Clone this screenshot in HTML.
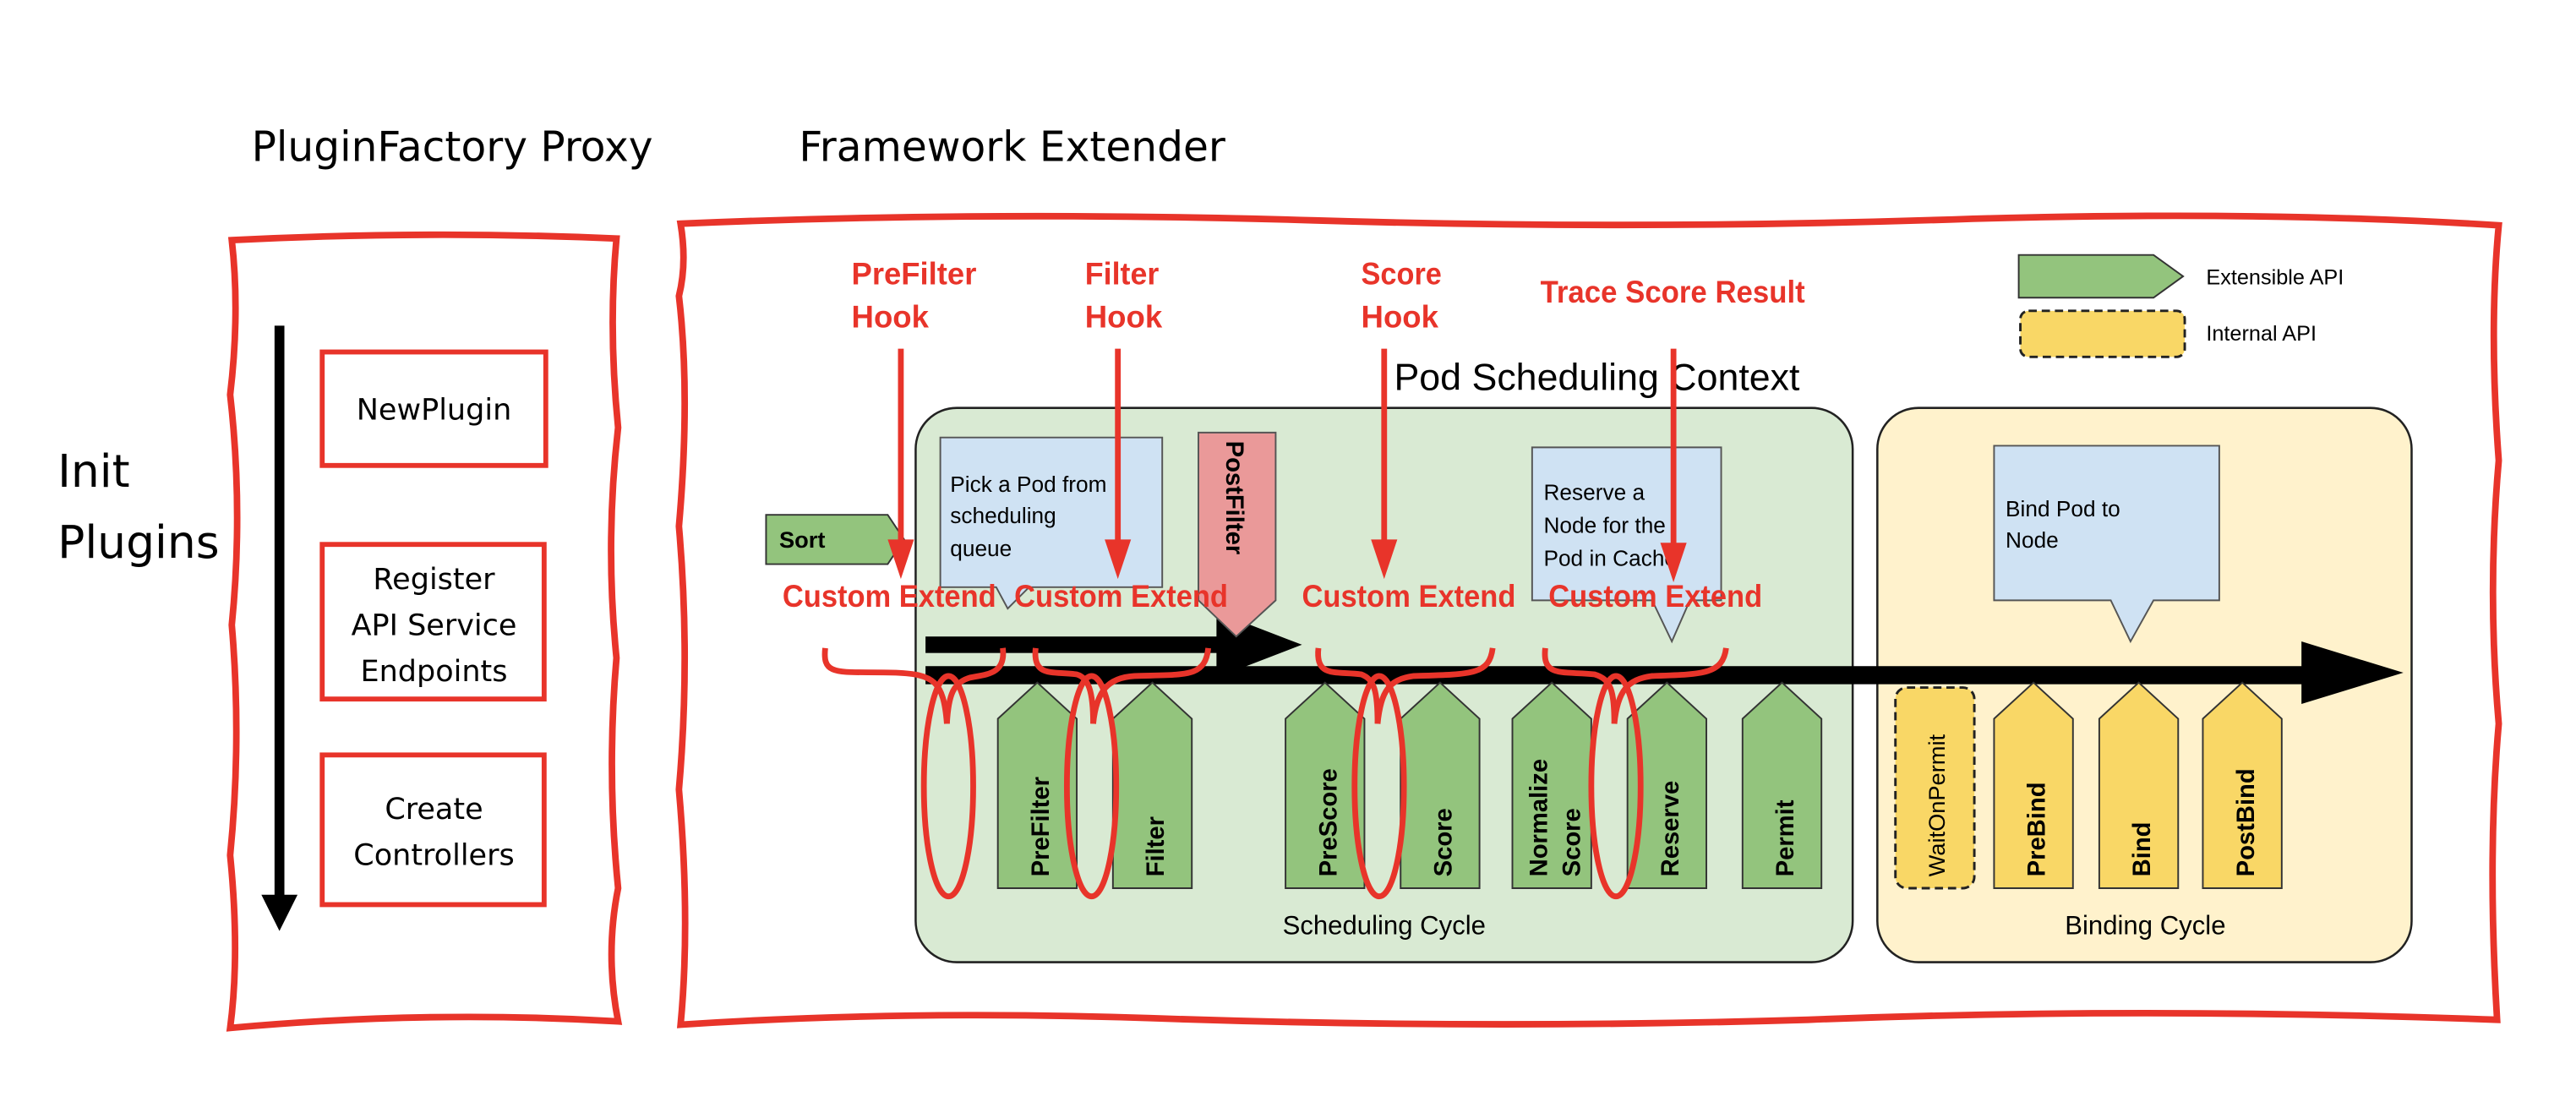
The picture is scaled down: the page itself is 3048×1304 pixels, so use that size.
<!DOCTYPE html>
<html><head><meta charset="utf-8"><style>
html,body{margin:0;padding:0;background:#fff;width:3048px;height:1304px;overflow:hidden}
svg{display:block}
.r{font-family:"Liberation Sans Narrow","Liberation Sans",sans-serif;font-weight:bold;fill:#e8342a}
.a{font-family:"Liberation Sans",sans-serif}
.d{font-family:"DejaVu Sans","Liberation Sans",sans-serif}
</style></head><body>
<svg width="3048" height="1304" viewBox="0 0 1567 670" preserveAspectRatio="none">
<!-- titles -->
<text x="153" y="98" class="d" font-size="25">PluginFactory Proxy</text>
<text x="486" y="98" class="d" font-size="25">Framework Extender</text>
<text x="35" y="296" class="d" font-size="27.5">Init</text>
<text x="35" y="339" class="d" font-size="27.5">Plugins</text>

<!-- left wavy box -->
<path d="M141,146 Q260,140 375,145 Q370,200 376,260 Q368,330 375,400 Q369,470 376,540 Q368,580 376,621 Q260,614 140,625 Q146,580 140,520 Q147,450 141,380 Q148,310 140,240 Q146,190 141,146 Z" fill="none" stroke="#e8342a" stroke-width="4"/>
<line x1="170" y1="198" x2="170" y2="545" stroke="#000" stroke-width="6"/>
<polygon points="159,544 181,544 170,566" fill="#000"/>
<rect x="196" y="214" width="136" height="69" fill="#fff" stroke="#e8342a" stroke-width="3"/>
<text x="264" y="255" class="d" font-size="18" text-anchor="middle">NewPlugin</text>
<rect x="196" y="331" width="135" height="94" fill="#fff" stroke="#e8342a" stroke-width="3"/>
<text x="264" y="358" class="d" font-size="18" text-anchor="middle">Register</text>
<text x="264" y="386" class="d" font-size="18" text-anchor="middle">API Service</text>
<text x="264" y="414" class="d" font-size="18" text-anchor="middle">Endpoints</text>
<rect x="196" y="459" width="135" height="91" fill="#fff" stroke="#e8342a" stroke-width="3"/>
<text x="264" y="498" class="d" font-size="18" text-anchor="middle">Create</text>
<text x="264" y="526" class="d" font-size="18" text-anchor="middle">Controllers</text>

<!-- big wavy box -->
<path d="M414,136 Q600,128 800,134 Q1000,140 1200,133 Q1380,128 1520,137 Q1514,200 1520,280 Q1513,360 1520,440 Q1513,520 1519,620 Q1300,612 1100,620 Q900,626 700,619 Q550,614 414,623 Q420,560 413,480 Q420,400 413,320 Q420,240 413,180 Q418,160 414,136 Z" fill="none" stroke="#e8342a" stroke-width="4"/>

<!-- legend -->
<polygon points="1228,155 1310,155 1328,168 1310,181 1228,181" fill="#93c47d" stroke="#333" stroke-width="1"/>
<text x="1342" y="173" class="a" font-size="13">Extensible API</text>
<rect x="1229" y="189" width="100" height="28" rx="5" fill="#f9d766" stroke="#222" stroke-width="1.5" stroke-dasharray="5,3"/>
<text x="1342" y="207" class="a" font-size="13">Internal API</text>

<text x="848" y="237" class="a" font-size="23">Pod Scheduling Context</text>

<!-- cycles -->
<rect x="557" y="248" width="570" height="337" rx="25" fill="#d9ead3" stroke="#222" stroke-width="1.3"/>
<rect x="1142" y="248" width="325" height="337" rx="25" fill="#fff2cc" stroke="#222" stroke-width="1.3"/>
<text x="842" y="568" class="a" font-size="16" text-anchor="middle">Scheduling Cycle</text>
<text x="1305" y="568" class="a" font-size="16" text-anchor="middle">Binding Cycle</text>

<!-- callouts -->
<path d="M572,266 L707,266 L707,357 L626,357 L613,370 L606,357 L572,357 Z" fill="#cfe2f3" stroke="#555" stroke-width="1"/>
<text x="578" y="299" class="a" font-size="13.5">Pick a Pod from</text>
<text x="578" y="318" class="a" font-size="13.5">scheduling</text>
<text x="578" y="338" class="a" font-size="13.5">queue</text>
<path d="M932,272 L1047,272 L1047,365 L1028,365 L1017,390 L1005,365 L932,365 Z" fill="#cfe2f3" stroke="#555" stroke-width="1"/>
<text x="939" y="304" class="a" font-size="13.5">Reserve a</text>
<text x="939" y="324" class="a" font-size="13.5">Node for the</text>
<text x="939" y="344" class="a" font-size="13.5">Pod in Cache</text>
<path d="M1213,271 L1350,271 L1350,365 L1310,365 L1296,390 L1284,365 L1213,365 Z" fill="#cfe2f3" stroke="#555" stroke-width="1"/>
<text x="1220" y="314" class="a" font-size="13.5">Bind Pod to</text>
<text x="1220" y="333" class="a" font-size="13.5">Node</text>

<!-- Sort -->
<polygon points="466,313 540,313 550,328 540,343 466,343" fill="#93c47d" stroke="#333" stroke-width="1"/>
<text x="474" y="333" class="a" font-size="14" font-weight="bold">Sort</text>

<!-- black arrows -->
<rect x="563" y="387" width="185" height="10" fill="#000"/>
<polygon points="740,372 792,392 740,412" fill="#000"/>
<path d="M729,263 L776,263 L776,365 L752,387 L729,365 Z" fill="#ea9999" stroke="#555" stroke-width="1"/>
<text transform="translate(746,268) rotate(90)" class="a" font-size="15" font-weight="bold">PostFilter</text>
<rect x="563" y="405" width="845" height="11" fill="#000"/>
<polygon points="1400,390 1462,409 1400,428" fill="#000"/>

<!-- plugins -->
<g fill="#93c47d" stroke="#333" stroke-width="1">
<polygon points="607,437 631,415 655,437 655,540 607,540"/>
<polygon points="677,437 701,415 725,437 725,540 677,540"/>
<polygon points="782,437 806,415 830,437 830,540 782,540"/>
<polygon points="852,437 876,415 900,437 900,540 852,540"/>
<polygon points="920,437 944,415 968,437 968,540 920,540"/>
<polygon points="990,437 1014,415 1038,437 1038,540 990,540"/>
<polygon points="1060,437 1084,415 1108,437 1108,540 1060,540"/>
</g>
<g fill="#f9d766" stroke="#333" stroke-width="1">
<polygon points="1213,437 1237,415 1261,437 1261,540 1213,540"/>
<polygon points="1277,437 1301,415 1325,437 1325,540 1277,540"/>
<polygon points="1340,437 1364,415 1388,437 1388,540 1340,540"/>
</g>
<rect x="1153" y="418" width="48" height="122" rx="7" fill="#f9d766" stroke="#222" stroke-width="1.5" stroke-dasharray="5,3"/>
<g class="a" font-size="15" font-weight="bold">
<text transform="translate(638,533) rotate(-90)">PreFilter</text>
<text transform="translate(708,533) rotate(-90)">Filter</text>
<text transform="translate(813,533) rotate(-90)">PreScore</text>
<text transform="translate(883,533) rotate(-90)">Score</text>
<text transform="translate(941,533) rotate(-90)">Normalize</text>
<text transform="translate(961,533) rotate(-90)">Score</text>
<text transform="translate(1021,533) rotate(-90)">Reserve</text>
<text transform="translate(1091,533) rotate(-90)">Permit</text>
<text transform="translate(1244,533) rotate(-90)">PreBind</text>
<text transform="translate(1308,533) rotate(-90)">Bind</text>
<text transform="translate(1371,533) rotate(-90)">PostBind</text>
</g>
<text transform="translate(1183,533) rotate(-90)" class="a" font-size="14">WaitOnPermit</text>

<!-- red labels -->
<g class="r" font-size="19">
<text x="518" y="173" textLength="76" lengthAdjust="spacingAndGlyphs">PreFilter</text><text x="518" y="199" textLength="47" lengthAdjust="spacingAndGlyphs">Hook</text>
<text x="660" y="173" textLength="45" lengthAdjust="spacingAndGlyphs">Filter</text><text x="660" y="199" textLength="47" lengthAdjust="spacingAndGlyphs">Hook</text>
<text x="828" y="173" textLength="49" lengthAdjust="spacingAndGlyphs">Score</text><text x="828" y="199" textLength="47" lengthAdjust="spacingAndGlyphs">Hook</text>
<text x="937" y="184" textLength="161" lengthAdjust="spacingAndGlyphs">Trace Score Result</text>
<text x="476" y="369" textLength="130" lengthAdjust="spacingAndGlyphs">Custom Extend</text>
<text x="617" y="369" textLength="130" lengthAdjust="spacingAndGlyphs">Custom Extend</text>
<text x="792" y="369" textLength="130" lengthAdjust="spacingAndGlyphs">Custom Extend</text>
<text x="942" y="369" textLength="130" lengthAdjust="spacingAndGlyphs">Custom Extend</text>
</g>
<g stroke="#e8342a" stroke-width="3.5" fill="none">
<line x1="548" y1="212" x2="548" y2="330"/>
<line x1="680" y1="212" x2="680" y2="330"/>
<line x1="842" y1="212" x2="842" y2="330"/>
<line x1="1018" y1="212" x2="1018" y2="332"/>
</g>
<g fill="#e8342a">
<polygon points="540,328 556,328 548,352"/>
<polygon points="672,328 688,328 680,352"/>
<polygon points="834,328 850,328 842,352"/>
<polygon points="1010,330 1026,330 1018,354"/>
</g>
<g stroke="#e8342a" stroke-width="3.5" fill="none">
<path d="M502,394 C500,412 510,408 545,409 C568,410 574,414 576,440"/>
<path d="M610,394 C612,410 600,410 590,412 C580,415 577,422 576,440"/>
<path d="M630,394 C628,412 640,408 655,410 C662,412 665,420 665,440"/>
<path d="M735,394 C733,412 722,410 690,411 C674,412 667,420 665,440"/>
<path d="M802,394 C800,412 812,408 828,410 C836,413 838,420 838,440"/>
<path d="M908,394 C906,410 896,410 860,411 C845,413 840,420 838,440"/>
<path d="M940,394 C938,412 950,408 970,410 C980,413 982,420 982,440"/>
<path d="M1050,394 C1048,410 1036,410 1005,411 C990,413 984,420 982,440"/>
<ellipse cx="577" cy="478" rx="15" ry="67"/>
<ellipse cx="664" cy="478" rx="15" ry="67"/>
<ellipse cx="839" cy="478" rx="15" ry="67"/>
<ellipse cx="983" cy="478" rx="15" ry="67"/>
</g>
</svg>
</body></html>
